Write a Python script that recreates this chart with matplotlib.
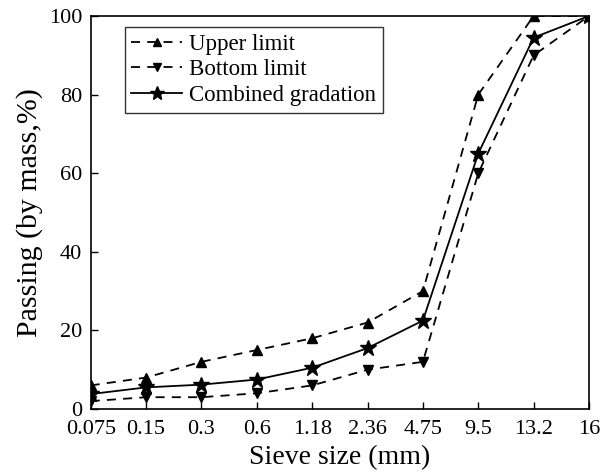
import matplotlib
matplotlib.use("Agg")
import matplotlib.pyplot as plt

sizes = ["0.075", "0.15", "0.3", "0.6", "1.18", "2.36", "4.75", "9.5", "13.2", "16"]
upper = [6, 8, 12, 15, 18, 22, 30, 80, 100, 100]
bottom = [2, 3, 3, 4, 6, 10, 12, 60, 90, 100]
combined = [3.8, 5.5, 6.2, 7.5, 10.5, 15.5, 22.5, 65, 94.5, 100]

plt.rcParams['font.family'] = ['Liberation Serif', 'DejaVu Serif']

fig = plt.figure(figsize=(6.12, 4.73), dpi=100)
ax = fig.add_axes([90.7 / 612, 1 - 409 / 473, (589 - 90.7) / 612, (409 - 16) / 473])
x = list(range(len(sizes)))
ax.plot(x, upper, ls=(0, (5, 4)), color='black', lw=1.3, marker='^', ms=7, label='Upper limit')
ax.plot(x, bottom, ls=(0, (5, 4)), color='black', lw=1.3, marker='v', ms=7, label='Bottom limit')
ax.plot(x, combined, ls='-', color='black', lw=1.3, marker='*', ms=12, label='Combined gradation')

ax.set_xlim(0, len(sizes) - 1)
ax.set_ylim(0, 100)
ax.set_xticks(x)
ax.set_xticklabels(sizes)
ax.set_yticks([0, 20, 40, 60, 80, 100])
ax.tick_params(direction='in', labelsize=16, length=5, width=1, top=False, right=False)
ax.tick_params(axis='x', pad=8)
ax.tick_params(axis='y', pad=6)
for s in ax.spines.values():
    s.set_linewidth(1.2)
ax.set_xlabel('Sieve size (mm)', fontsize=20, labelpad=4)
ax.set_ylabel('Passing (by mass,%)', fontsize=21.5, labelpad=4)
leg = ax.legend(loc='upper left', bbox_to_anchor=(0.068, 0.973), fontsize=16.5, frameon=True,
                fancybox=False, edgecolor='black', handlelength=2.2, handletextpad=0.3,
                borderpad=0.3, labelspacing=0.2, borderaxespad=0, markerscale=0.85)
leg.get_frame().set_linewidth(1.0)
fig.savefig('out.png', dpi=100)
